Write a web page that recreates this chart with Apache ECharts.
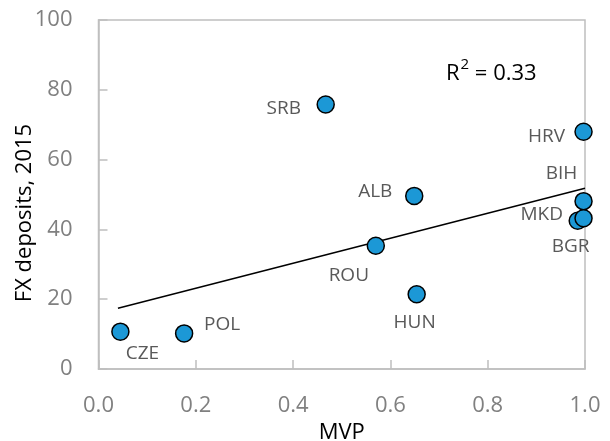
<!DOCTYPE html>
<html>
<head>
<meta charset="utf-8">
<style>
html,body{margin:0;padding:0;background:#fff;}
#chart{width:610px;height:441px;}
</style>
<script src="https://cdn.jsdelivr.net/npm/echarts@6/dist/echarts.min.js"></script>
</head>
<body>
<div id="chart"></div>
<script>
// ---- data ----
const countries = ['CZE','POL','ROU','HUN','ALB','SRB','HRV','BIH','MKD','BGR'];
const mvp       = [0.045, 0.176, 0.570, 0.654, 0.649, 0.467, 0.997, 0.997, 0.985, 0.997];
const fxDeposits= [10.7, 10.2, 35.3, 21.4, 49.6, 75.8, 68.0, 48.1, 42.5, 43.2];
const trendX    = [0.04, 1.0];
const trendY    = [17.4, 51.8];
const xTickLabels = ['0.0','0.2','0.4','0.6','0.8','1.0'];
const yTickLabels = ['0','20','40','60','80','100'];
const rSquaredParts = ['R', '2', ' = 0.33'];
const xTitle = 'MVP';
const yTitle = 'FX deposits, 2015';

// ---- label placement (style, not data) ----
const labelOffsets = {
  CZE:[22,22], POL:[38,-9], ROU:[-27,30], HUN:[-2,28], ALB:[-39,-4],
  SRB:[-42,4], HRV:[-37,5], BIH:[-22,-28], MKD:[-36,-6], BGR:[-13,28]
};

const FONT = 'Open Sans';
const pts = countries.map((c,i)=>({ value:[mvp[i], fxDeposits[i]], name:c }));

const chart = echarts.init(document.getElementById('chart'), null, {renderer:'canvas'});
chart.setOption({
  animation:false,
  backgroundColor:'#fff',
  grid:{left:98.5, right:25, top:20, bottom:72, show:true, borderColor:'#bfbfbf', borderWidth:1.5, outerBoundsMode:'none'},
  xAxis:{
    type:'value', min:0, max:1, interval:0.2,
    name:xTitle, nameLocation:'middle', nameGap:49,
    nameTextStyle:{fontFamily:FONT, fontSize:22, color:'#000'},
    axisLine:{show:true, lineStyle:{color:'#bfbfbf', width:1.5}},
    axisTick:{show:true, inside:true, length:9, lineStyle:{color:'#bfbfbf', width:1.5}},
    splitLine:{show:false},
    axisLabel:{fontFamily:FONT, fontSize:22, color:'#808080', margin:26,
      formatter:v=>xTickLabels[Math.round(v/0.2)]}
  },
  yAxis:{
    type:'value', min:0, max:100, interval:20,
    axisLine:{show:true, lineStyle:{color:'#bfbfbf', width:1.5}},
    axisTick:{show:true, inside:true, length:9, lineStyle:{color:'#bfbfbf', width:1.5}},
    splitLine:{show:false},
    axisLabel:{fontFamily:FONT, fontSize:22, color:'#808080', margin:26,
      formatter:v=>yTickLabels[Math.round(v/20)]}
  },
  graphic:[
    {type:'text', x:25, y:213, rotation:Math.PI/2,
      style:{text:yTitle, fontFamily:FONT, fontSize:22, fill:'#000', align:'center', verticalAlign:'middle'}},
    {type:'text', x:446, y:70,
      style:{text:'{a|'+rSquaredParts[0]+'}{s|'+rSquaredParts[1]+'}{a|'+rSquaredParts[2]+'}',
        align:'left', verticalAlign:'middle',
        rich:{
          a:{fontFamily:FONT, fontSize:22, fill:'#000', color:'#000', lineHeight:30, verticalAlign:'bottom'},
          s:{fontFamily:FONT, fontSize:15, fill:'#000', color:'#000', lineHeight:30, verticalAlign:'top', padding:[2,0,0,1]}
        }}}
  ],
  series:[
    {type:'line', data:trendX.map((x,i)=>[x,trendY[i]]), symbol:'none',
      lineStyle:{color:'#000', width:1.5}, silent:true, z:1},
    {type:'scatter', data:pts, symbol:'circle', symbolSize:17, z:3,
      itemStyle:{color:'#1c98d6', borderColor:'#000', borderWidth:1.5, opacity:1},
      label:{show:true, position:'inside', formatter:'{b}', fontFamily:FONT, fontSize:19, color:'#595959',
        align:'center', verticalAlign:'middle'},
      labelLayout:function(p){
        const o = labelOffsets[countries[p.dataIndex]];
        return {dx:o[0], dy:o[1], hideOverlap:false};
      }
    }
  ]
});
</script>
</body>
</html>
